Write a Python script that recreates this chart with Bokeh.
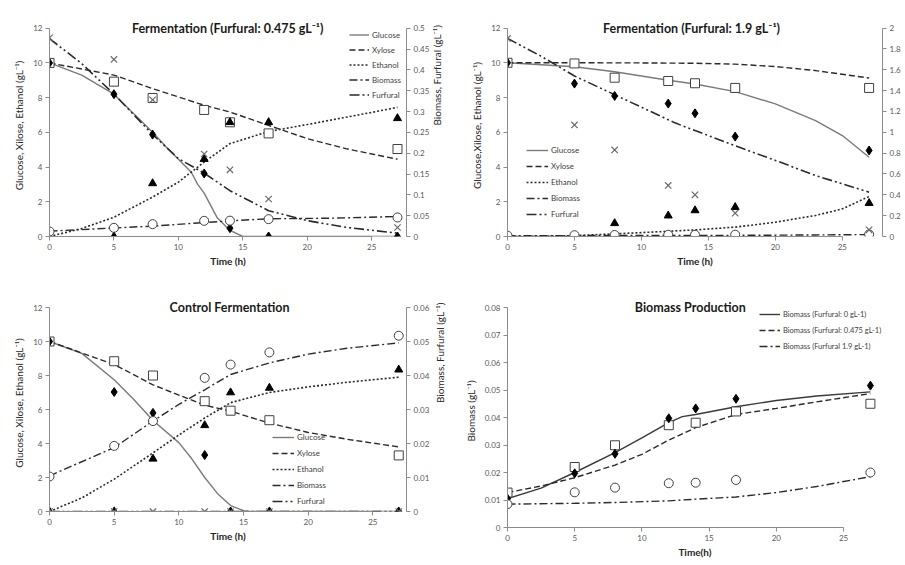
import math
from bokeh.plotting import figure
from bokeh.models import (Range1d, LinearAxis, FixedTicker, Label, Legend, LegendItem,
                          CustomJSTickFormatter)
from bokeh.layouts import column, row
from bokeh.embed import file_html
from bokeh.resources import INLINE

FONT = "Lato"

# sampling times (h)
t_exp = [0, 5, 8, 12, 14, 17, 27]
x_ticks = [0, 5, 10, 15, 20, 25]

# ---------- Panel 1: Fermentation (Furfural 0.475 g/L) ----------
p1_glucose = [10.0, 8.2, 5.87, 3.63, 0.48, 0.0, 0.0]
p1_xylose = [10.0, 8.92, 7.98, 7.29, 6.58, 5.94, 5.04]
p1_ethanol = [0.0, 0.0, 3.06, 4.46, 6.58, 6.58, 6.81]
p1_biomass = [0.012, 0.0208, 0.0296, 0.0376, 0.038, 0.0417, 0.0457]
p1_furfural = [0.477, 0.425, 0.328, 0.198, 0.16, 0.09, 0.0216]

p1_glc_t = [0, 2.5, 5, 8, 9, 10, 11, 11.5, 12, 13, 14, 15, 17, 20, 27]
p1_glc_m = [10, 9.3, 8.2, 6.0, 5.2, 4.45, 3.7, 3.0, 2.5, 1.1, 0.35, 0, 0, 0, 0]
p1_xyl_t = [0, 5, 8, 12, 14, 17, 20, 23, 27]
p1_xyl_m = [10, 9.3, 8.52, 7.56, 7.17, 6.4, 5.64, 5.06, 4.45]
p1_eth_t = [0, 2.5, 5, 8, 10, 12, 14, 17, 20, 25, 27]
p1_eth_m = [0, 0.46, 1.11, 2.27, 3.13, 4.29, 5.35, 6.05, 6.45, 7.15, 7.44]
p1_bio_t = [0, 5, 8, 12, 14, 17, 22, 27]
p1_bio_m = [0.0128, 0.0205, 0.025, 0.0335, 0.0376, 0.0425, 0.044, 0.048]
p1_fur_t = [0, 2.5, 5, 8, 10, 12, 14, 17, 20, 23, 27]
p1_fur_m = [0.475, 0.415, 0.342, 0.245, 0.187, 0.152, 0.11, 0.062, 0.038, 0.022, 0.008]

# ---------- Panel 2: Fermentation (Furfural 1.9 g/L) ----------
p2_glucose = [10.0, 8.8, 8.09, 7.65, 7.09, 5.75, 4.95]
p2_xylose = [10.0, 9.96, 9.14, 8.95, 8.82, 8.55, 8.55]
p2_ethanol = [0.0, 0.0, 0.76, 1.2, 1.5, 1.69, 1.92]
p2_biomass = [0.0085, 0.0128, 0.0145, 0.0161, 0.0163, 0.0173, 0.02]
p2_furfural = [1.9, 1.07, 0.83, 0.49, 0.40, 0.224, 0.064]

p2_glc_t = [0, 5, 8, 12, 14, 17, 20, 23, 25, 27]
p2_glc_m = [10, 9.77, 9.48, 8.99, 8.78, 8.34, 7.63, 6.67, 5.81, 4.56]
p2_xyl_t = [0, 5, 10, 14, 17, 20, 23, 27]
p2_xyl_m = [10, 10, 9.99, 9.97, 9.92, 9.78, 9.55, 9.12]
p2_eth_t = [0, 5, 8, 12, 14, 17, 20, 23, 25, 27]
p2_eth_m = [0, 0.05, 0.15, 0.3, 0.38, 0.54, 0.82, 1.21, 1.59, 2.3]
p2_bio_t = [0, 5, 8, 12, 14, 17, 20, 23, 27]
p2_bio_m = [0.0085, 0.0088, 0.0091, 0.0097, 0.0103, 0.0111, 0.0127, 0.0149, 0.0185]
p2_fur_t = [0, 2.5, 5, 8, 12.5, 17, 20, 23, 27]
p2_fur_m = [1.9, 1.73, 1.54, 1.36, 1.09, 0.87, 0.73, 0.585, 0.425]

# ---------- Panel 3: Control Fermentation ----------
p3_glucose = [10.0, 7.03, 5.8, 3.32, 0.0, 0.0, 0.0]
p3_xylose = [10.0, 8.84, 8.0, 6.49, 5.93, 5.37, 3.3]
p3_ethanol = [0.0, 0.0, 3.1, 5.07, 7.0, 7.27, 8.34]
p3_biomass = [0.0103, 0.0193, 0.0266, 0.0393, 0.0432, 0.0468, 0.0517]
p3_furfural = [0.0, 0.0, 0.0, 0.0, 0.0, 0.0, 0.0]

p3_glc_t = [0, 2.5, 5, 6.5, 8, 10, 11, 12, 13, 14, 15, 15.5, 17, 20, 27]
p3_glc_m = [10, 9.3, 7.75, 6.6, 5.35, 4.05, 3.1, 2.0, 1.05, 0.35, 0.05, 0, 0, 0, 0]
p3_xyl_t = [0, 5, 8, 12, 14, 17, 20, 23, 27]
p3_xyl_m = [10, 8.65, 7.45, 6.25, 5.9, 5.2, 4.65, 4.25, 3.8]
p3_eth_t = [0, 2.5, 5, 8, 10, 12, 14, 17, 20, 23, 27]
p3_eth_m = [0, 0.8, 1.9, 3.45, 4.5, 5.5, 6.4, 7.0, 7.33, 7.6, 7.9]
p3_bio_t = [0, 5, 8, 10, 12, 14, 17, 20, 23, 27]
p3_bio_m = [0.0105, 0.0188, 0.0266, 0.0315, 0.0358, 0.0403, 0.0437, 0.0463, 0.048, 0.0496]
p3_fur_t = [0, 27]
p3_fur_m = [0.0, 0.0]

# ---------- Panel 4: Biomass Production ----------
p4_b0 = [0.0105, 0.0197, 0.0268, 0.0397, 0.0433, 0.0468, 0.0516]
p4_b475 = [0.0127, 0.022, 0.0299, 0.0372, 0.0381, 0.0422, 0.045]
p4_b19 = [0.0085, 0.0128, 0.0145, 0.0161, 0.0163, 0.0173, 0.02]

p4_m0_t = [0, 2.5, 5, 8, 10, 12, 13, 14, 17, 20, 23, 27]
p4_m0 = [0.0105, 0.0143, 0.02, 0.0272, 0.0326, 0.0381, 0.0403, 0.0411, 0.0439, 0.0462, 0.0478, 0.0493]
p4_m475_t = [0, 2.5, 5, 8, 10, 12, 14, 17, 20, 23, 27]
p4_m475 = [0.0127, 0.0151, 0.0181, 0.0227, 0.0266, 0.0318, 0.0363, 0.0411, 0.0433, 0.0457, 0.0487]
p4_m19_t = [0, 5, 8, 12, 14, 17, 20, 23, 27]
p4_m19 = [0.0085, 0.0088, 0.0091, 0.0097, 0.0103, 0.0111, 0.0127, 0.0149, 0.0185]

legend_names = ["Glucose", "Xylose", "Ethanol", "Biomass", "Furfural"]
p4_legend_names = ["Biomass (Furfural: 0 gL-1)", "Biomass (Furfural: 0.475 gL-1)",
                   "Biomass (Furfural 1.9 gL-1)"]

AX = "#8c8c8c"
TXT = "#595959"
DASH_XYL = "6 3"
DASH_ETH = "2 2"
DASH_BIO = "8 3 2 3"
DASH_FUR = "10 3 2 3 2 3"

fmt = CustomJSTickFormatter(code="return String(Math.round(tick*10000)/10000);")


def style_axis(ax, ticks, label=None, bold=False, standoff=4):
    ax.ticker = FixedTicker(ticks=ticks)
    ax.bounds = (ticks[0], ticks[-1])
    ax.formatter = fmt
    ax.axis_line_color = AX
    ax.major_tick_line_color = AX
    ax.major_tick_out = 4
    ax.major_tick_in = 0
    ax.minor_tick_line_color = None
    ax.major_label_text_font = FONT
    ax.major_label_text_font_size = "8px"
    ax.major_label_text_color = TXT
    ax.major_label_standoff = 3
    if label:
        ax.axis_label = label
        ax.axis_label_text_font = FONT
        ax.axis_label_text_font_size = "10px"
        ax.axis_label_text_font_style = "bold" if bold else "normal"
        ax.axis_label_text_color = "#262626"
        ax.axis_label_standoff = standoff


def base_fig(w, h, bl, br, bt, bb, xmax, ymax, yticks, ylabel, xlabel):
    p = figure(width=w, height=h, output_backend="svg", toolbar_location=None,
               x_range=Range1d(0, xmax), y_range=Range1d(0, ymax))
    p.min_border_left = bl
    p.min_border_right = br
    p.min_border_top = bt
    p.min_border_bottom = bb
    p.outline_line_color = None
    p.grid.visible = False
    p.background_fill_color = "white"
    p.border_fill_color = "white"
    style_axis(p.xaxis[0], x_ticks, xlabel, bold=True, standoff=2)
    style_axis(p.yaxis[0], yticks, ylabel, standoff=5)
    return p


def right_axis(p, ticks, label=None, standoff=5):
    ax = LinearAxis(y_range_name="r")
    style_axis(ax, ticks, label, standoff=standoff)
    if label and "axis_label_orientation" in ax.properties():
        ax.axis_label_orientation = math.pi / 2
    p.add_layout(ax, "right")


def add_title(p, x, y, text):
    p.add_layout(Label(x=x, y=y, text=text, text_align="center", text_baseline="middle",
                       text_font=FONT, text_font_size="12.5px", text_font_style="bold",
                       text_color="#1a1a1a"))


def add_legend(p, items, x, y, glyph_w, pitch, fs="8px"):
    lg = Legend(items=items, location=(x, y), padding=0, margin=0, spacing=0,
                glyph_width=glyph_w, glyph_height=pitch, label_height=pitch,
                label_standoff=3, label_text_font=FONT, label_text_font_size=fs,
                label_text_color="#404040", border_line_color=None,
                background_fill_alpha=0)
    p.add_layout(lg)


def markers(p, gl, xy, et, bi, fu):
    p.scatter(t_exp, xy, marker="square", size=9, fill_color="white", line_color="#404040")
    p.scatter(t_exp, gl, marker="diamond", size=9, fill_color="black", line_color="black")
    p.scatter(t_exp, et, marker="triangle", size=8, fill_color="black", line_color="black")
    p.scatter(t_exp, bi, marker="circle", size=9, fill_color="white", line_color="#404040",
              y_range_name="r")
    p.scatter(t_exp, fu, marker="x", size=9, line_color="#6a6a6a", line_width=1.2,
              y_range_name="r")


def model_lines(p, glc, xyl, eth, bio, fur):
    r1 = p.line(glc[0], glc[1], line_color="#7a7a7a", line_width=1.4)
    r2 = p.line(xyl[0], xyl[1], line_color="#2a2a2a", line_width=1.4, line_dash=DASH_XYL)
    r3 = p.line(eth[0], eth[1], line_color="#2a2a2a", line_width=1.6, line_dash=DASH_ETH)
    r4 = p.line(bio[0], bio[1], line_color="#2a2a2a", line_width=1.4, line_dash=DASH_BIO,
                y_range_name="r")
    r5 = p.line(fur[0], fur[1], line_color="#2a2a2a", line_width=1.6, line_dash=DASH_FUR,
                y_range_name="r")
    return [LegendItem(label=n, renderers=[r]) for n, r in zip(legend_names, [r1, r2, r3, r4, r5])]


YL = "Glucose, Xilose, Ethanol (gL\u207b\u00b9)"
YR = "Biomass, Furfural (gL\u207b\u00b9)"
left_ticks = [0, 2, 4, 6, 8, 10, 12]

# Panel 1 (frame: x 48-413, value 12 at y=28, 0 at y=236)
top1 = 12 * 222 / 208.3
p1 = base_fig(455, 280, 48, 42, 14, 44, 27.7, top1, left_ticks, YL, "Time (h)")
p1.extra_y_ranges = {"r": Range1d(0, 0.5 * top1 / 12)}
right_axis(p1, [0, 0.05, 0.1, 0.15, 0.2, 0.25, 0.3, 0.35, 0.4, 0.45, 0.5], YR, standoff=5)
it1 = model_lines(p1, (p1_glc_t, p1_glc_m), (p1_xyl_t, p1_xyl_m), (p1_eth_t, p1_eth_m),
                  (p1_bio_t, p1_bio_m), (p1_fur_t, p1_fur_m))
markers(p1, p1_glucose, p1_xylose, p1_ethanol, p1_biomass, p1_furfural)
add_title(p1, 14.06, 12, "Fermentation  (Furfural: 0.475  gL\u207b\u00b9)")
add_legend(p1, it1, 300, 134, 20, 15)

# Panel 2 (frame: x 507-882, value 12 at y=27.5, 0 at y=236)
top2 = 12 * 222 / 208.5
p2 = base_fig(448, 280, 52, 21, 14, 44, 28, top2, left_ticks,
              "Glucose,Xilose, Ethanol (gL\u207b\u00b9)", "Time (h)")
p2.extra_y_ranges = {"r": Range1d(0, 2 * top2 / 12)}
right_axis(p2, [0, 0.2, 0.4, 0.6, 0.8, 1, 1.2, 1.4, 1.6, 1.8, 2])
it2 = model_lines(p2, (p2_glc_t, p2_glc_m), (p2_xyl_t, p2_xyl_m), (p2_eth_t, p2_eth_m),
                  (p2_bio_t, p2_bio_m), (p2_fur_t, p2_fur_m))
markers(p2, p2_glucose, p2_xylose, p2_ethanol, p2_biomass, p2_furfural)
add_title(p2, 13.74, 12, "Fermentation (Furfural: 1.9 gL\u207b\u00b9)")
add_legend(p2, it2, 19, 14, 22, 16)

# Panel 3 (frame: x 49-416, value 12 at y=308, 0 at y=512)
top3 = 12 * 217 / 204
p3 = base_fig(455, 284, 49, 39, 14, 53, 27.6, top3, left_ticks, YL, "Time (h)")
p3.extra_y_ranges = {"r": Range1d(0, 0.06 * top3 / 12)}
right_axis(p3, [0, 0.01, 0.02, 0.03, 0.04, 0.05, 0.06], YR, standoff=8)
it3 = model_lines(p3, (p3_glc_t, p3_glc_m), (p3_xyl_t, p3_xyl_m), (p3_eth_t, p3_eth_m),
                  (p3_bio_t, p3_bio_m), (p3_fur_t, p3_fur_m))
markers(p3, p3_glucose, p3_xylose, p3_ethanol, p3_biomass, p3_furfural)
add_title(p3, 13.92, 12, "Control Fermentation")
add_legend(p3, it3, 223, 2, 22, 16)

# Panel 4 (frame: x 507-887, value 0.08 at y=308, 0 at y=528)
top4 = 0.08 * 233 / 220
p4 = base_fig(448, 284, 52, 16, 14, 37, 27.9, top4,
              [0, 0.01, 0.02, 0.03, 0.04, 0.05, 0.06, 0.07, 0.08],
              "Biomass (gL\u207b\u00b9)", "Time(h)")
q1 = p4.line(p4_m0_t, p4_m0, line_color="#3a3a3a", line_width=1.4)
q2 = p4.line(p4_m475_t, p4_m475, line_color="#2a2a2a", line_width=1.4, line_dash=DASH_XYL)
q3 = p4.line(p4_m19_t, p4_m19, line_color="#2a2a2a", line_width=1.4, line_dash=DASH_BIO)
p4.scatter(t_exp, p4_b475, marker="square", size=9, fill_color="white", line_color="#404040")
p4.scatter(t_exp, p4_b0, marker="diamond", size=9, fill_color="black", line_color="black")
p4.scatter(t_exp, p4_b19, marker="circle", size=9, fill_color="white", line_color="#404040")
add_title(p4, 13.6, 0.08, "Biomass Production")
add_legend(p4, [LegendItem(label=n, renderers=[r]) for n, r in zip(p4_legend_names, [q1, q2, q3])],
           252, 173, 21, 16, fs="7.5px")

layout = row(column(p1, p3), column(p2, p4))
open("out.html", "w").write(file_html(layout, INLINE))
